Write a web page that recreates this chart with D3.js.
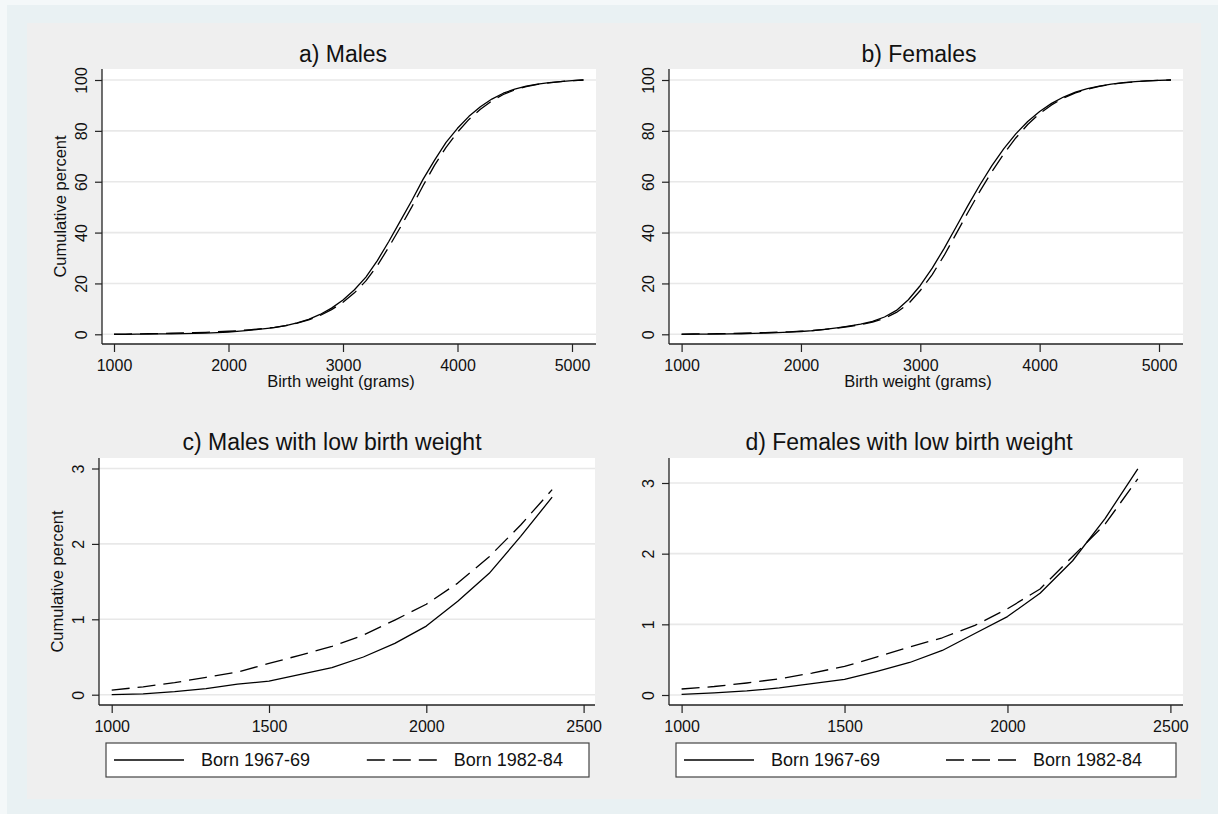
<!DOCTYPE html>
<html>
<head>
<meta charset="utf-8">
<script src="https://cdn.jsdelivr.net/npm/d3@7"></script>
<style>
  html, body { margin: 0; padding: 0; background: #e9f1f3; }
  svg { display: block; font-family: "Liberation Sans", Arial, Helvetica, sans-serif; }
</style>
</head>
<body>
<svg id="chart" width="1218" height="814"></svg>
<script>
// Birth weight classes (grams)
const weights = [1000, 1100, 1200, 1300, 1400, 1500, 1600, 1700, 1800, 1900,
                 2000, 2100, 2200, 2300, 2400, 2500, 2600, 2700, 2800, 2900,
                 3000, 3100, 3200, 3300, 3400, 3500, 3600, 3700, 3800, 3900,
                 4000, 4100, 4200, 4300, 4400, 4500, 4600, 4700, 4800, 4900,
                 5000, 5100];
// Low birth weight classes (grams)
const lowWeights = [1000, 1100, 1200, 1300, 1400, 1500, 1600, 1700, 1800, 1900,
                    2000, 2100, 2200, 2300, 2400];

// Cumulative percent, males
const malesBorn1967 = [0.0, 0.01, 0.04, 0.08, 0.14, 0.18, 0.27, 0.36, 0.5, 0.68,
                       0.91, 1.24, 1.61, 2.1, 2.62, 3.4, 4.5, 5.9, 7.8, 10.3,
                       13.5, 17.5, 22.5, 29, 36.5, 44.5, 52.5, 61, 68.5, 75.5,
                       81, 85.7, 89.5, 92.5, 94.8, 96.4, 97.6, 98.4, 99.0, 99.4,
                       99.75, 100];
const malesBorn1982 = [0.06, 0.105, 0.16, 0.23, 0.30, 0.415, 0.525, 0.64, 0.79, 0.99,
                       1.2, 1.48, 1.83, 2.25, 2.72, 3.4, 4.4, 5.7, 7.4, 9.7,
                       12.6, 16.3, 21, 27, 34.3, 42, 50, 58.5, 66.5, 73.5,
                       79.5, 84.5, 88.5, 91.8, 94.3, 96.1, 97.4, 98.3, 98.9, 99.4,
                       99.75, 100];

// Cumulative percent, females
const femalesBorn1967 = [0.01, 0.03, 0.057, 0.10, 0.16, 0.22, 0.335, 0.46, 0.63, 0.87,
                         1.11, 1.44, 1.9, 2.5, 3.2, 4.0, 5.1, 6.8, 9.4, 13.6,
                         19.2, 26.0, 33.8, 42.2, 50.7, 58.8, 66.3, 73.0, 78.8, 83.7,
                         87.6, 90.8, 93.3, 95.2, 96.6, 97.6, 98.4, 98.95, 99.35, 99.65,
                         99.85, 100];
const femalesBorn1982 = [0.085, 0.12, 0.17, 0.23, 0.31, 0.405, 0.54, 0.68, 0.81, 0.985,
                         1.22, 1.5, 1.96, 2.42, 3.06, 3.8, 4.8, 6.3, 8.6, 12.0,
                         17.2, 23.5, 31.0, 39.5, 48.0, 56.3, 64.0, 71.0, 77.2, 82.5,
                         86.8, 90.2, 92.9, 94.9, 96.4, 97.5, 98.3, 98.9, 99.3, 99.65,
                         99.85, 100];

// Tick values
const fullXTicks = [1000, 2000, 3000, 4000, 5000];
const fullYTicks = [0, 20, 40, 60, 80, 100];
const lowXTicks = [1000, 1500, 2000, 2500];
const lowYTicks = [0, 1, 2, 3];

const seriesNames = ["Born 1967-69", "Born 1982-84"];
const panelTitles = ["a) Males", "b) Females", "c) Males with low birth weight", "d) Females with low birth weight"];
const xAxisTitle = "Birth weight (grams)";
const yAxisTitle = "Cumulative percent";

// ---- layout ----
const layout = [
  { plot: { l: 102, r: 596, t: 69, b: 344 }, xr: [114, 572], xd: [1000, 5000], yr: [334.3, 80], yd: [0, 100],
    titleX: 343, titleY: 62 },
  { plot: { l: 669, r: 1183, t: 69, b: 344 }, xr: [681.6, 1159], xd: [1000, 5000], yr: [334.3, 80], yd: [0, 100],
    titleX: 919, titleY: 62 },
  { plot: { l: 99, r: 595, t: 458, b: 705 }, xr: [111.7, 583.6], xd: [1000, 2500], yr: [694.7, 468.5], yd: [0, 3],
    titleX: 332, titleY: 450, legend: { l: 106, r: 589, t: 743, b: 777 } },
  { plot: { l: 669, r: 1183, t: 458, b: 705 }, xr: [681.6, 1170.4], xd: [1000, 2500], yr: [695, 483], yd: [0, 3],
    titleX: 909, titleY: 450, legend: { l: 676, r: 1176, t: 743, b: 777 } }
];

const nLow = lowWeights.length;
const panels = [
  { x: weights, s: [malesBorn1967, malesBorn1982], xt: fullXTicks, yt: fullYTicks, yTitle: true, xTitle: true },
  { x: weights, s: [femalesBorn1967, femalesBorn1982], xt: fullXTicks, yt: fullYTicks, yTitle: false, xTitle: true },
  { x: lowWeights, s: [malesBorn1967.slice(0, nLow), malesBorn1982.slice(0, nLow)], xt: lowXTicks, yt: lowYTicks, yTitle: true, xTitle: false },
  { x: lowWeights, s: [femalesBorn1967.slice(0, nLow), femalesBorn1982.slice(0, nLow)], xt: lowXTicks, yt: lowYTicks, yTitle: false, xTitle: false }
];

const dashPattern = "18,8";
const axisColor = "#222";
const gridColor = "#e8e8e8";
const textColor = "#111";

const svg = d3.select("#chart");

// graph region backgrounds
svg.append("rect").attr("width", 1218).attr("height", 814).attr("fill", "#e9f1f3");
svg.append("rect").attr("x", 0).attr("y", 0).attr("width", 7).attr("height", 814).attr("fill", "#f4f8f9");
svg.append("rect").attr("x", 0).attr("y", 0).attr("width", 1218).attr("height", 5).attr("fill", "#f4f8f9");
svg.append("rect").attr("x", 27).attr("y", 23).attr("width", 1174).attr("height", 776).attr("fill", "#efefef");

panels.forEach((p, i) => {
  const L = layout[i];
  const g = svg.append("g");
  const x = d3.scaleLinear().domain(L.xd).range(L.xr);
  const y = d3.scaleLinear().domain(L.yd).range(L.yr);

  // plot region
  g.append("rect")
    .attr("x", L.plot.l).attr("y", L.plot.t)
    .attr("width", L.plot.r - L.plot.l).attr("height", L.plot.b - L.plot.t)
    .attr("fill", "#fff");

  // horizontal grid
  g.selectAll(".grid").data(p.yt).enter().append("line")
    .attr("x1", L.plot.l).attr("x2", L.plot.r)
    .attr("y1", d => y(d)).attr("y2", d => y(d))
    .attr("stroke", gridColor).attr("stroke-width", 1.6);

  // y axis
  const yAxis = d3.axisLeft(y).tickValues(p.yt).tickSize(7).tickFormat(d3.format("d"));
  const gy = g.append("g").attr("transform", `translate(${L.plot.l},0)`).call(yAxis);
  gy.select(".domain").remove();
  gy.selectAll(".tick line").attr("stroke", axisColor).attr("stroke-width", 1.2);
  gy.selectAll(".tick text")
    .attr("x", null).attr("dy", null)
    .attr("transform", "translate(-21,0) rotate(-90)")
    .attr("text-anchor", "middle")
    .attr("dy", "0.36em")
    .attr("font-size", 16).attr("fill", textColor)
    .attr("font-family", "Liberation Sans, Arial, sans-serif");

  // x axis
  const xAxis = d3.axisBottom(x).tickValues(p.xt).tickSize(8).tickPadding(8).tickFormat(d3.format("d"));
  const gx = g.append("g").attr("transform", `translate(0,${L.plot.b})`).call(xAxis);
  gx.select(".domain").remove();
  gx.selectAll(".tick line").attr("stroke", axisColor).attr("stroke-width", 1.2);
  gx.selectAll(".tick text")
    .attr("font-size", 16).attr("fill", textColor)
    .attr("font-family", "Liberation Sans, Arial, sans-serif");

  // axis lines
  g.append("line").attr("x1", L.plot.l).attr("x2", L.plot.l).attr("y1", L.plot.t).attr("y2", L.plot.b)
    .attr("stroke", axisColor).attr("stroke-width", 1.3);
  g.append("line").attr("x1", L.plot.l).attr("x2", L.plot.r).attr("y1", L.plot.b).attr("y2", L.plot.b)
    .attr("stroke", axisColor).attr("stroke-width", 1.3);

  // curves
  const line = d3.line().x((d, k) => x(p.x[k])).y(d => y(d));
  p.s.forEach((vals, k) => {
    g.append("path").datum(vals)
      .attr("d", line)
      .attr("fill", "none")
      .attr("stroke", "#000")
      .attr("stroke-width", 1.3)
      .attr("stroke-linejoin", "round")
      .attr("stroke-dasharray", k === 1 ? dashPattern : null);
  });

  // titles
  g.append("text").attr("x", L.titleX).attr("y", L.titleY)
    .attr("text-anchor", "middle").attr("font-size", 23).attr("fill", textColor)
    .text(panelTitles[i]);

  if (p.xTitle) {
    g.append("text").attr("x", (L.plot.l + L.plot.r) / 2 - 8).attr("y", L.plot.b + 43)
      .attr("text-anchor", "middle").attr("font-size", 16.5).attr("fill", textColor)
      .text(xAxisTitle);
  }
  if (p.yTitle) {
    const cy = (L.plot.t + L.plot.b) / 2;
    g.append("text").attr("transform", `translate(${L.plot.l - 42},${cy}) rotate(-90)`)
      .attr("text-anchor", "middle").attr("dy", "0.36em").attr("font-size", 16.5).attr("fill", textColor)
      .text(yAxisTitle);
  }

  // legend
  if (L.legend) {
    const lg = L.legend;
    const w = lg.r - lg.l;
    const cy = (lg.t + lg.b) / 2;
    g.append("rect").attr("x", lg.l).attr("y", lg.t).attr("width", w).attr("height", lg.b - lg.t)
      .attr("fill", "#fff").attr("stroke", "#444").attr("stroke-width", 1.2);
    const keyStarts = [lg.l + 8, lg.l + w * 0.54];
    seriesNames.forEach((name, k) => {
      g.append("line").attr("x1", keyStarts[k]).attr("x2", keyStarts[k] + 70)
        .attr("y1", cy).attr("y2", cy)
        .attr("stroke", "#000").attr("stroke-width", 1.3)
        .attr("stroke-dasharray", k === 1 ? dashPattern : null);
      g.append("text").attr("x", keyStarts[k] + 87).attr("y", cy).attr("dy", "0.36em")
        .attr("font-size", 18).attr("fill", textColor)
        .text(name);
    });
  }
});
</script>
</body>
</html>
